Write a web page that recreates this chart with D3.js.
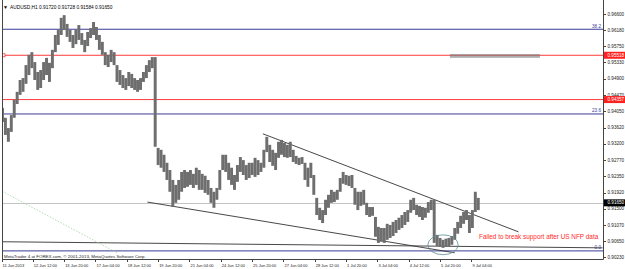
<!DOCTYPE html>
<html>
<head>
<meta charset="utf-8">
<script src="https://cdn.jsdelivr.net/npm/d3@7"></script>
<style>
body { margin: 0; background: #fff; }
svg text { font-family: Arial, "Liberation Sans", sans-serif; }
</style>
</head>
<body>
<div id="chart"></div>
<script>
var w = 625;
var h = 269;
var plotLeft = 2, plotRight = 603, plotTop = 0, plotBottom = 259;

var symbol = "AUDUSD,H1";
var lastBar = ["0.91720", "0.91728", "0.91584", "0.91650"];

// one entry per 3 hourly bars
var highs = [
  0.9414, 0.9388, 0.9361, 0.9395, 0.9435, 0.9456, 0.9487, 0.9492, 0.9526, 0.9553,
  0.9560, 0.9534, 0.9508, 0.9513, 0.9534, 0.9545, 0.9532, 0.9566, 0.9605, 0.9618,
  0.9650, 0.9657, 0.9634, 0.9618, 0.9605, 0.9618, 0.9631, 0.9610, 0.9592, 0.9613,
  0.9623, 0.9639, 0.9626, 0.9605, 0.9587, 0.9560, 0.9553, 0.9566, 0.9560, 0.9526,
  0.9513,
  0.9500, 0.9492, 0.9508, 0.9503, 0.9492, 0.9487, 0.9492, 0.9508, 0.9526, 0.9539,
  0.9547, 0.9547, 0.9309, 0.9304, 0.9291, 0.9270, 0.9251, 0.9225, 0.9212, 0.9225,
  0.9246, 0.9251, 0.9246, 0.9251, 0.9241, 0.9257, 0.9251, 0.9241, 0.9236, 0.9225,
  0.9204, 0.9194, 0.9204, 0.9251, 0.9291, 0.9291, 0.9270, 0.9257, 0.9238, 0.9264,
  0.9285, 0.9277, 0.9264, 0.9270, 0.9270, 0.9283, 0.9277, 0.9270, 0.9304, 0.9338,
  0.9317, 0.9304,
  0.9296, 0.9325, 0.9330, 0.9322, 0.9317, 0.9325, 0.9304, 0.9288, 0.9283,
  0.9285, 0.9270, 0.9257, 0.9270, 0.9238, 0.9178, 0.9152, 0.9146, 0.9173, 0.9186,
  0.9199, 0.9194, 0.9199, 0.9230, 0.9246, 0.9238, 0.9236, 0.9238, 0.9204, 0.9194,
  0.9194, 0.9199, 0.9165, 0.9154, 0.9154, 0.9128, 0.9102, 0.9099, 0.9099, 0.9110,
  0.9107, 0.9115, 0.9120, 0.9126, 0.9133, 0.9141,
  0.9146, 0.9173, 0.9178, 0.9160, 0.9157,
  0.9154, 0.9152, 0.9167, 0.9173, 0.9173, 0.9081, 0.9073, 0.9068, 0.9071, 0.9073,
  0.9078, 0.9099, 0.9115, 0.9131, 0.9141, 0.9146, 0.9133, 0.9146, 0.9194, 0.9178
];
var lows = [
  0.9377, 0.9343, 0.9325, 0.9351, 0.9388, 0.9424, 0.9448, 0.9456, 0.9477, 0.9500,
  0.9518, 0.9487, 0.9461, 0.9466, 0.9487, 0.9500, 0.9482, 0.9518, 0.9560, 0.9579,
  0.9605, 0.9618, 0.9600, 0.9587, 0.9571, 0.9581, 0.9592, 0.9579, 0.9560, 0.9576,
  0.9597, 0.9605, 0.9592, 0.9566, 0.9553, 0.9526, 0.9521, 0.9534, 0.9526, 0.9482,
  0.9474,
  0.9466, 0.9461, 0.9471, 0.9466, 0.9461, 0.9456, 0.9461, 0.9482, 0.9492, 0.9508,
  0.9518, 0.9312, 0.9264, 0.9257, 0.9246, 0.9225, 0.9194, 0.9154, 0.9165, 0.9173,
  0.9194, 0.9204, 0.9207, 0.9212, 0.9204, 0.9212, 0.9199, 0.9199, 0.9191, 0.9186,
  0.9165, 0.9152, 0.9173, 0.9199, 0.9251, 0.9246, 0.9225, 0.9212, 0.9199, 0.9220,
  0.9246, 0.9238, 0.9225, 0.9230, 0.9238, 0.9233, 0.9238, 0.9246, 0.9257, 0.9298,
  0.9272, 0.9262,
  0.9251, 0.9283, 0.9291, 0.9285, 0.9283, 0.9285, 0.9272, 0.9267, 0.9264,
  0.9267, 0.9225, 0.9207, 0.9230, 0.9186, 0.9133, 0.9120, 0.9112, 0.9133, 0.9152,
  0.9165, 0.9167, 0.9173, 0.9194, 0.9215, 0.9212, 0.9209, 0.9204, 0.9160, 0.9146,
  0.9157, 0.9160, 0.9133, 0.9128, 0.9131, 0.9076, 0.9060, 0.9063, 0.9060, 0.9068,
  0.9073, 0.9078, 0.9086, 0.9094, 0.9099, 0.9107,
  0.9115, 0.9139, 0.9146, 0.9133, 0.9128,
  0.9120, 0.9126, 0.9139, 0.9146, 0.9060, 0.9052, 0.9050, 0.9047, 0.9050, 0.9050,
  0.9055, 0.9068, 0.9084, 0.9099, 0.9110, 0.9120, 0.9086, 0.9099, 0.9141, 0.9146
];
var hoursPerBar = 3;

var timeLabels = ["11 Jun 2013", "12 Jun 12:00", "13 Jun 20:00", "17 Jun 04:00", "18 Jun 12:00",
  "19 Jun 20:00", "21 Jun 04:00", "24 Jun 12:00", "25 Jun 20:00", "27 Jun 04:00",
  "28 Jun 12:00", "1 Jul 20:00", "3 Jul 04:00", "4 Jul 12:00", "5 Jul 20:00", "9 Jul 04:00"];
var hoursPerLabel = 32;

var priceTicks = [0.96600, 0.96180, 0.95750, 0.95330, 0.94900, 0.94470, 0.94050, 0.93620,
  0.93200, 0.92770, 0.92350, 0.91920, 0.91500, 0.91070, 0.90650, 0.90230];

var redLevels = [0.95518, 0.94357];
var currentPrice = 0.91650;
var fibLow = 0.9039, fibHigh = 1.0560;
var fibLevels = [0.0, 23.6, 38.2];

// trend lines: [hour, price] pairs
var resistance = [[267, 0.9346], [528, 0.9089]];
var support = [[149, 0.9167], [463, 0.9034]];
var baseLine = [[0, 0.9063], [614, 0.9047]];
var greenLine = [[-2, 0.9199], [118, 0.9034]];
var zoneBox = {h0: 458, h1: 550, p0: 0.9555, p1: 0.9545};
var lowEllipse = {hour: 451, price: 0.9055, dh: 15.5, dp: 0.0026};
var note = "Failed to break support after US NFP data";

var x = d3.scaleLinear().domain([0, 480]).range([1.5, 471.4]);
var y = d3.scaleLinear().domain([0.90230, 0.96600]).range([257, 14]);

var svg = d3.select("#chart").append("svg")
  .attr("width", w).attr("height", h);

svg.append("rect").attr("width", w).attr("height", h).attr("fill", "#fff");

svg.append("clipPath").attr("id", "plot")
  .append("rect")
  .attr("x", plotLeft).attr("y", plotTop)
  .attr("width", plotRight - plotLeft).attr("height", plotBottom - plotTop);

var g = svg.append("g").attr("clip-path", "url(#plot)");

// current price line
g.append("line")
  .attr("x1", plotLeft).attr("x2", plotRight)
  .attr("y1", Math.round(y(currentPrice)) + 0.5).attr("y2", Math.round(y(currentPrice)) + 0.5)
  .attr("stroke", "#c4c4c4").attr("stroke-width", 1);

// fibo levels
var fibPrice = d => fibLow + (fibHigh - fibLow) * d / 100;
g.selectAll(".fib").data(fibLevels).enter().append("line")
  .attr("x1", plotLeft).attr("x2", plotRight)
  .attr("y1", d => y(fibPrice(d))).attr("y2", d => y(fibPrice(d)))
  .attr("stroke", "#3b3b98").attr("stroke-width", 1);
g.selectAll(".fibl").data(fibLevels).enter().append("text")
  .attr("x", plotRight - 2).attr("y", d => y(fibPrice(d)) - 1.5)
  .attr("text-anchor", "end").attr("font-size", 4.6).attr("fill", "#3b3b98")
  .text(d => d.toFixed(1));

// red levels
g.selectAll(".red").data(redLevels).enter().append("line")
  .attr("x1", plotLeft).attr("x2", plotRight)
  .attr("y1", d => y(d)).attr("y2", d => y(d))
  .attr("stroke", "#ff3b3b").attr("stroke-width", 1);
g.append("rect")
  .attr("x", plotLeft).attr("y", y(redLevels[0]) - 1.5)
  .attr("width", 3).attr("height", 3)
  .attr("fill", "#fff").attr("stroke", "#ff3b3b").attr("stroke-width", 0.8);

// base line and trend lines
var line = d3.line().x(d => x(d[0])).y(d => y(d[1]));
g.append("path").attr("d", line(baseLine)).attr("stroke", "#333").attr("stroke-width", 0.9).attr("fill", "none");
g.append("path").attr("d", line(greenLine)).attr("stroke", "#9fd49f").attr("stroke-width", 0.8)
  .attr("stroke-dasharray", "1.5,1.5").attr("fill", "none");
g.append("path").attr("d", line(support)).attr("stroke", "#333").attr("stroke-width", 0.9).attr("fill", "none");
g.append("path").attr("d", line(resistance)).attr("stroke", "#333").attr("stroke-width", 0.9).attr("fill", "none");

// price bars
var step = x(hoursPerBar) - x(0);
g.selectAll(".bar").data(highs).enter().append("rect")
  .attr("x", (d, i) => x(i * hoursPerBar + 1) - step / 2)
  .attr("width", step)
  .attr("y", d => y(d))
  .attr("height", (d, i) => Math.max(1, y(lows[i]) - y(d)))
  .attr("fill", "#6e6e6e");

// zone box
g.append("rect")
  .attr("x", x(zoneBox.h0)).attr("width", x(zoneBox.h1) - x(zoneBox.h0))
  .attr("y", y(zoneBox.p0)).attr("height", y(zoneBox.p1) - y(zoneBox.p0))
  .attr("fill", "#7a7a7a").attr("opacity", 0.6);

// ellipse around low
g.append("ellipse")
  .attr("cx", x(lowEllipse.hour)).attr("cy", y(lowEllipse.price))
  .attr("rx", x(lowEllipse.dh) - x(0))
  .attr("ry", y(lowEllipse.price - lowEllipse.dp) - y(lowEllipse.price))
  .attr("fill", "none").attr("stroke", "#5d8c8f").attr("stroke-width", 0.8);

// note
g.append("text")
  .attr("x", 479).attr("y", y(0.9070))
  .attr("font-size", 6.4).attr("fill", "#ff2a2a")
  .text(note);

// frame
svg.append("path")
  .attr("d", "M" + (plotLeft + 0.5) + "," + plotTop + "V" + (plotBottom + 0.5) + "H" + (plotRight + 0.5) + "V" + plotTop)
  .attr("stroke", "#444").attr("stroke-width", 1).attr("fill", "none");

// right axis
var ra = svg.append("g");
ra.selectAll("line").data(priceTicks).enter().append("line")
  .attr("x1", plotRight).attr("x2", plotRight + 3)
  .attr("y1", d => Math.round(y(d)) + 0.5).attr("y2", d => Math.round(y(d)) + 0.5)
  .attr("stroke", "#444");
ra.selectAll("text").data(priceTicks).enter().append("text")
  .attr("x", plotRight + 4.5).attr("y", d => y(d) + 1.6)
  .attr("font-size", 4.6).attr("fill", "#222")
  .text(d => d.toFixed(5));

// price labels with background
var boxes = [{p: redLevels[0], c: "#ff2020"}, {p: redLevels[1], c: "#ff2020"}, {p: currentPrice, c: "#000"}];
var bx = svg.selectAll(".box").data(boxes).enter().append("g");
bx.append("rect")
  .attr("x", plotRight + 1).attr("width", w - plotRight - 1)
  .attr("y", d => y(d.p) - 3.5).attr("height", 7)
  .attr("fill", d => d.c);
bx.append("text")
  .attr("x", plotRight + 4.5).attr("y", d => y(d.p) + 1.6)
  .attr("font-size", 4.6).attr("fill", "#fff")
  .text(d => d.p.toFixed(5));

// time axis
var ta = svg.append("g");
ta.selectAll("line").data(timeLabels).enter().append("line")
  .attr("x1", (d, i) => Math.round(x(i * hoursPerLabel)) + 0.5)
  .attr("x2", (d, i) => Math.round(x(i * hoursPerLabel)) + 0.5)
  .attr("y1", plotBottom).attr("y2", plotBottom + 3)
  .attr("stroke", "#444");
ta.selectAll("text").data(timeLabels).enter().append("text")
  .attr("x", (d, i) => x(i * hoursPerLabel) + 1)
  .attr("y", 267)
  .attr("font-family", "'Liberation Sans Narrow', Arial, sans-serif")
  .attr("font-size", 4)
  .attr("fill", "#222")
  .text(d => d);

// header and footer
svg.append("text").attr("x", 3).attr("y", 8.5).attr("font-size", 5).attr("fill", "#000").text("\u25BC");
svg.append("text").attr("x", 10).attr("y", 8.5).attr("font-size", 4.8).attr("fill", "#000")
  .text(symbol + "  " + lastBar.join(" "));
svg.append("text").attr("x", 4).attr("y", 257.5).attr("font-size", 4.4).attr("fill", "#222")
  .text("MetaTrader 4 at FOREX.com, \u00A9 2001-2013, MetaQuotes Software Corp.");
</script>
</body>
</html>
